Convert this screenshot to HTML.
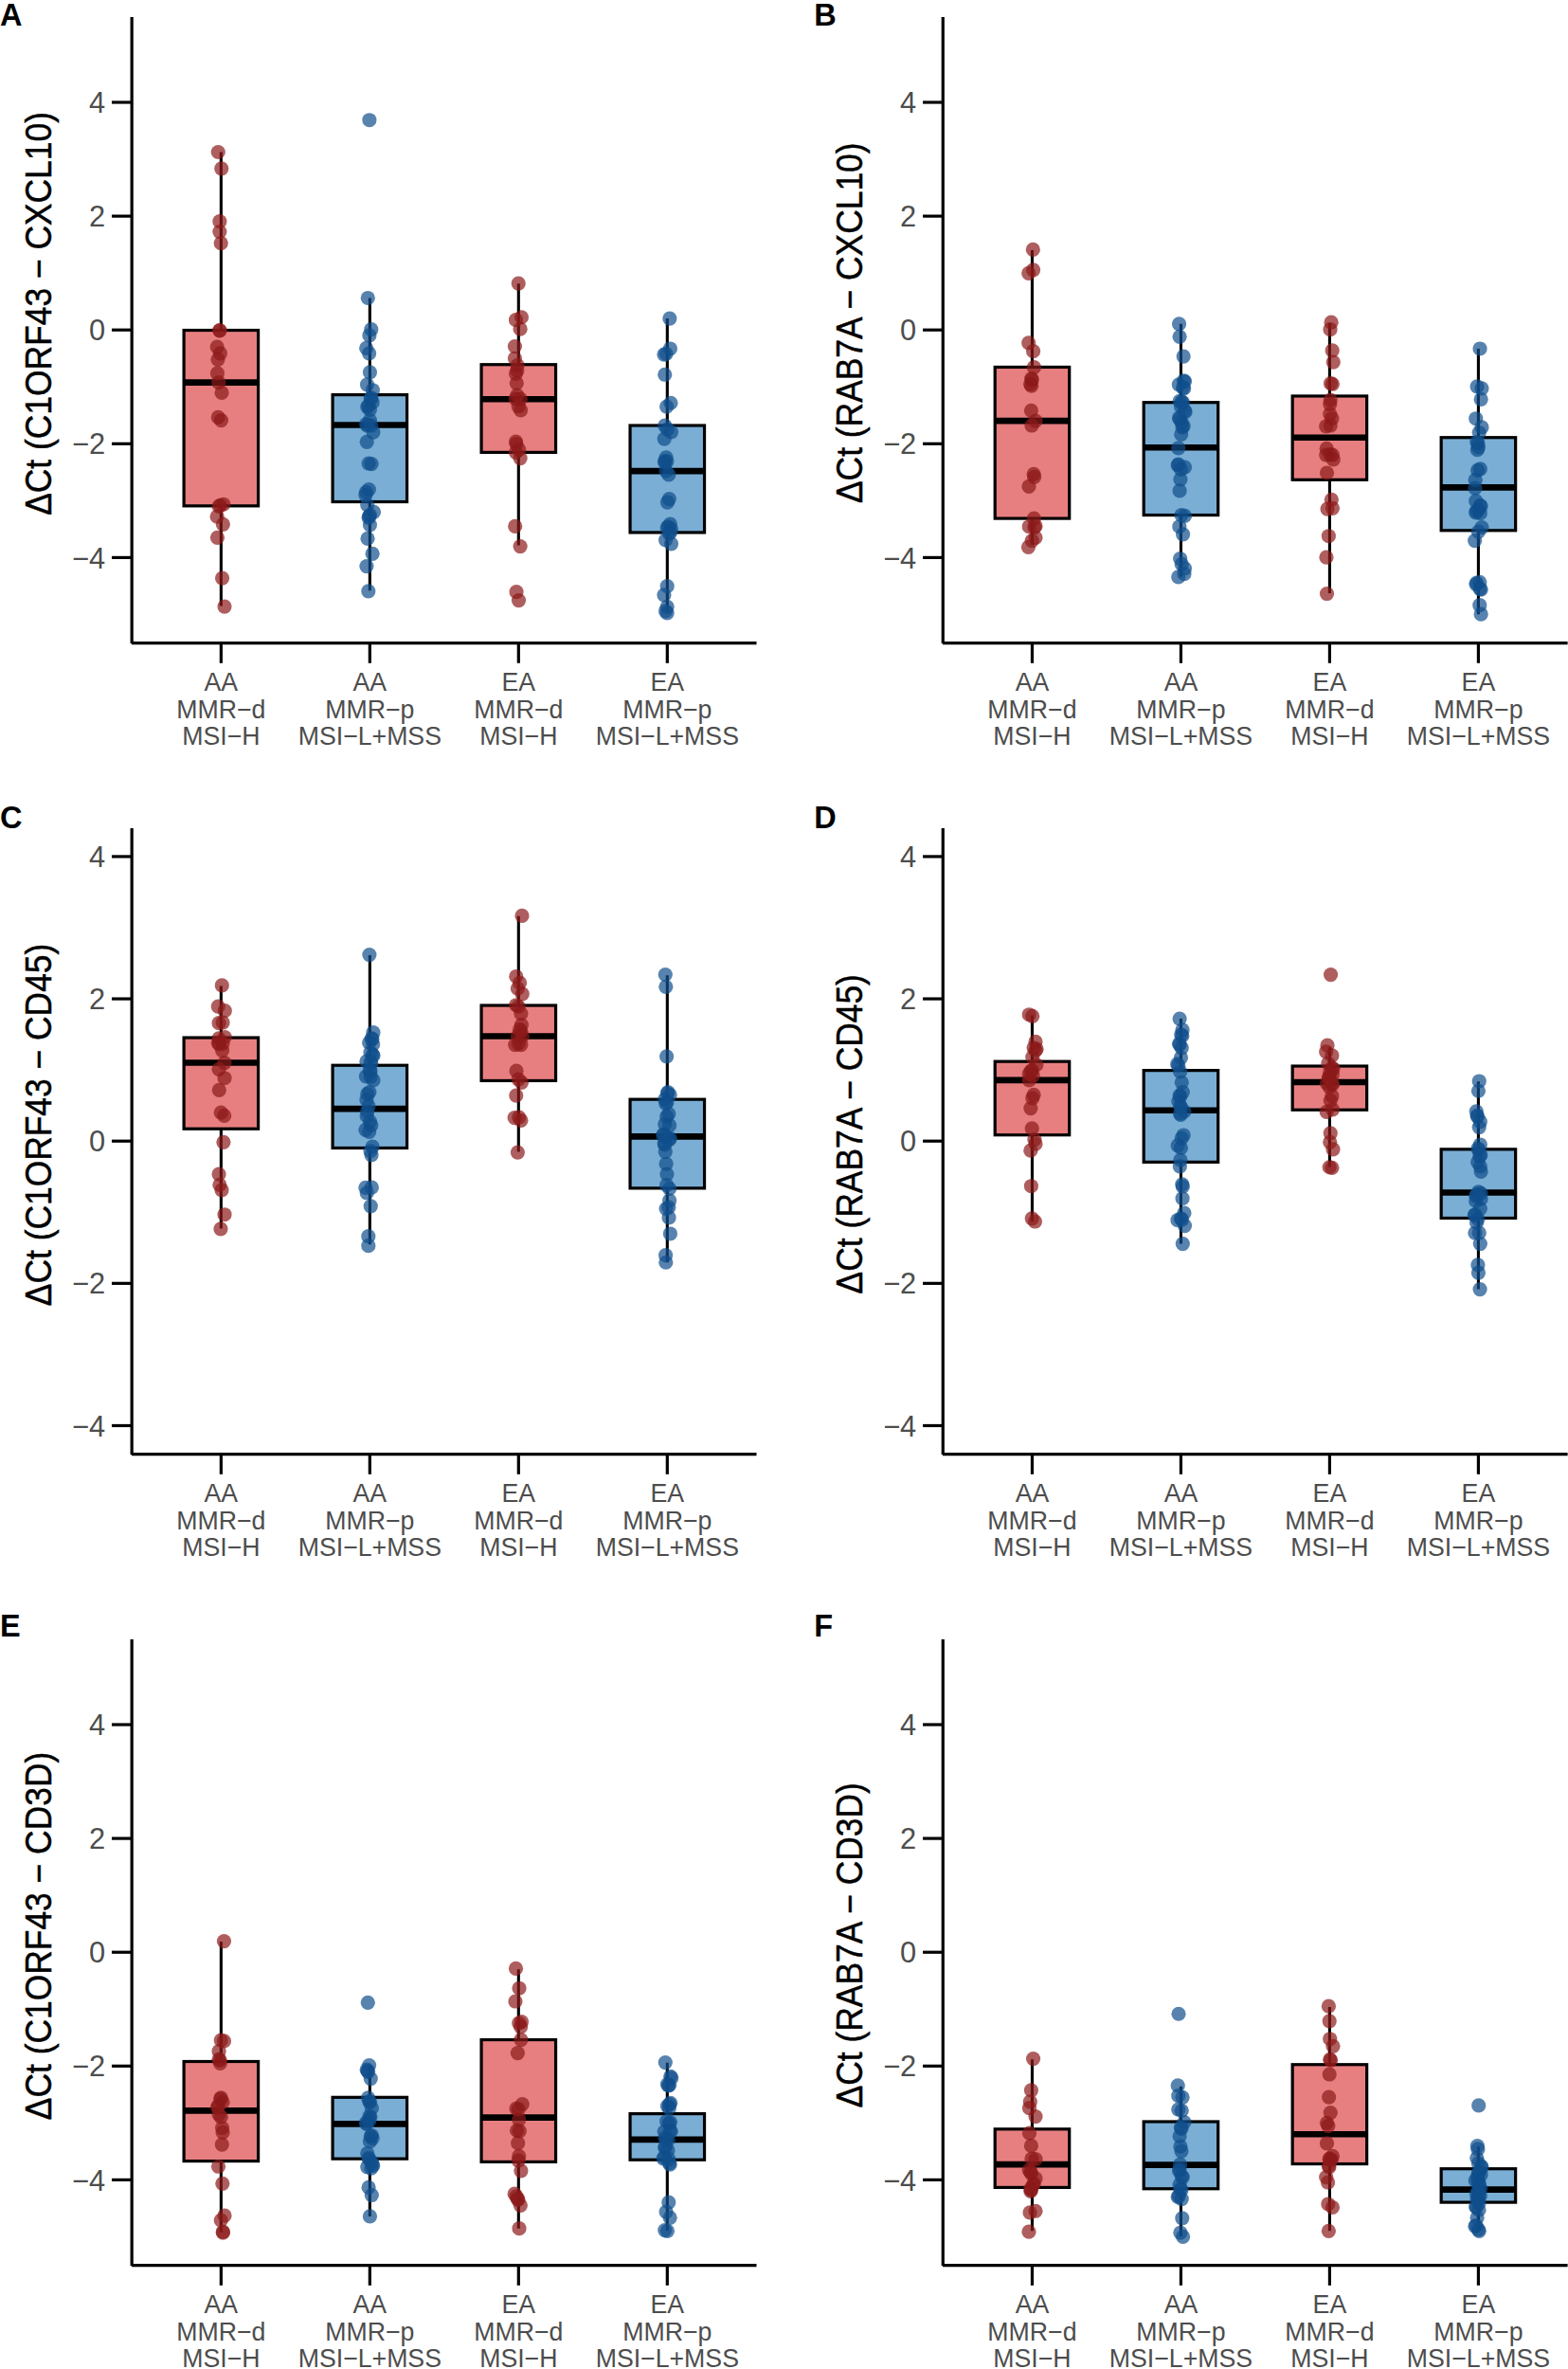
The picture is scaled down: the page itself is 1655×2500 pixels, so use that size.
<!DOCTYPE html>
<html lang="en"><head><meta charset="utf-8"><title>Figure</title>
<style>html,body{margin:0;padding:0;background:#fff}svg{display:block}</style></head>
<body>
<svg width="1655" height="2500" viewBox="0 0 1655 2500" font-family="'Liberation Sans', Arial, Helvetica, sans-serif">
<rect width="1655" height="2500" fill="#fff"/>
<g id="panelA">
<path d="M233.34 160.5V348.53M233.34 533.85V639.49" stroke="#000" stroke-width="3.1" fill="none"/>
<rect x="194.1" y="348.53" width="78.49" height="185.33" fill="#E77F81" stroke="#000" stroke-width="3.2"/>
<path d="M194.1 403.64H272.59" stroke="#000" stroke-width="6.6"/>
<g fill="rgba(139,26,26,0.7)">
<circle cx="230.24" cy="160.5" r="7.6"/>
<circle cx="233.75" cy="177.79" r="7.6"/>
<circle cx="231.86" cy="233.71" r="7.6"/>
<circle cx="231.86" cy="244.52" r="7.6"/>
<circle cx="233.21" cy="256.67" r="7.6"/>
<circle cx="231.86" cy="348.53" r="7.6"/>
<circle cx="231.86" cy="348.8" r="7.6"/>
<circle cx="229.16" cy="366.09" r="7.6"/>
<circle cx="232.4" cy="372.84" r="7.6"/>
<circle cx="229.97" cy="379.32" r="7.6"/>
<circle cx="229.43" cy="393.91" r="7.6"/>
<circle cx="230.78" cy="403.64" r="7.6"/>
<circle cx="234.02" cy="414.44" r="7.6"/>
<circle cx="230.24" cy="440.38" r="7.6"/>
<circle cx="233.48" cy="443.62" r="7.6"/>
<circle cx="232.4" cy="533.31" r="7.6"/>
<circle cx="235.91" cy="532.23" r="7.6"/>
<circle cx="231.05" cy="534.39" r="7.6"/>
<circle cx="229.16" cy="545.2" r="7.6"/>
<circle cx="235.37" cy="553.31" r="7.6"/>
<circle cx="229.43" cy="567.35" r="7.6"/>
<circle cx="234.56" cy="610.04" r="7.6"/>
<circle cx="236.99" cy="640.03" r="7.6"/>
</g>
<path d="M390.33 314.49V416.61M390.33 529.53V623.28" stroke="#000" stroke-width="3.1" fill="none"/>
<rect x="351.08" y="416.61" width="78.49" height="112.93" fill="#7AAED4" stroke="#000" stroke-width="3.2"/>
<path d="M351.08 448.48H429.58" stroke="#000" stroke-width="6.6"/>
<g fill="rgba(16,78,139,0.7)">
<circle cx="389.9" cy="126.73" r="7.6"/>
<circle cx="388.28" cy="314.49" r="7.6"/>
<circle cx="391.79" cy="347.72" r="7.6"/>
<circle cx="389.9" cy="353.93" r="7.6"/>
<circle cx="386.66" cy="367.44" r="7.6"/>
<circle cx="389.63" cy="372.84" r="7.6"/>
<circle cx="390.44" cy="392.83" r="7.6"/>
<circle cx="387.47" cy="405.8" r="7.6"/>
<circle cx="393.41" cy="411.74" r="7.6"/>
<circle cx="391.25" cy="420.66" r="7.6"/>
<circle cx="393.14" cy="424.71" r="7.6"/>
<circle cx="387.74" cy="429.57" r="7.6"/>
<circle cx="390.44" cy="432.28" r="7.6"/>
<circle cx="390.44" cy="443.62" r="7.6"/>
<circle cx="387.74" cy="449.02" r="7.6"/>
<circle cx="391.79" cy="449.02" r="7.6"/>
<circle cx="393.95" cy="456.05" r="7.6"/>
<circle cx="387.2" cy="466.31" r="7.6"/>
<circle cx="389.09" cy="489.01" r="7.6"/>
<circle cx="392.06" cy="489.55" r="7.6"/>
<circle cx="389.36" cy="516.56" r="7.6"/>
<circle cx="386.39" cy="519.27" r="7.6"/>
<circle cx="385.85" cy="522.51" r="7.6"/>
<circle cx="387.74" cy="532.77" r="7.6"/>
<circle cx="394.49" cy="540.34" r="7.6"/>
<circle cx="390.44" cy="543.58" r="7.6"/>
<circle cx="389.09" cy="546.28" r="7.6"/>
<circle cx="390.44" cy="553.85" r="7.6"/>
<circle cx="388.01" cy="568.43" r="7.6"/>
<circle cx="393.14" cy="584.37" r="7.6"/>
<circle cx="386.93" cy="597.61" r="7.6"/>
<circle cx="388.82" cy="623.82" r="7.6"/>
<circle cx="391.79" cy="419.85" r="7.6"/>
<circle cx="388.82" cy="428.22" r="7.6"/>
<circle cx="386.66" cy="447.67" r="7.6"/>
<circle cx="389.63" cy="544.93" r="7.6"/>
</g>
<path d="M547.32 299.36V384.73M547.32 477.39V575.46" stroke="#000" stroke-width="3.1" fill="none"/>
<rect x="508.07" y="384.73" width="78.49" height="92.66" fill="#E77F81" stroke="#000" stroke-width="3.2"/>
<path d="M508.07 421.2H586.57" stroke="#000" stroke-width="6.6"/>
<g fill="rgba(139,26,26,0.7)">
<circle cx="547.21" cy="299.09" r="7.6"/>
<circle cx="550.45" cy="334.75" r="7.6"/>
<circle cx="544.51" cy="337.72" r="7.6"/>
<circle cx="549.1" cy="347.18" r="7.6"/>
<circle cx="543.43" cy="365.55" r="7.6"/>
<circle cx="543.43" cy="378.24" r="7.6"/>
<circle cx="546.13" cy="385.54" r="7.6"/>
<circle cx="545.86" cy="390.94" r="7.6"/>
<circle cx="544.51" cy="394.45" r="7.6"/>
<circle cx="545.32" cy="404.45" r="7.6"/>
<circle cx="545.86" cy="417.15" r="7.6"/>
<circle cx="544.24" cy="420.93" r="7.6"/>
<circle cx="549.37" cy="421.2" r="7.6"/>
<circle cx="547.21" cy="428.76" r="7.6"/>
<circle cx="549.64" cy="432.82" r="7.6"/>
<circle cx="544.51" cy="466.04" r="7.6"/>
<circle cx="545.05" cy="468.48" r="7.6"/>
<circle cx="547.75" cy="474.69" r="7.6"/>
<circle cx="544.51" cy="477.39" r="7.6"/>
<circle cx="549.1" cy="483.6" r="7.6"/>
<circle cx="543.7" cy="555.47" r="7.6"/>
<circle cx="549.1" cy="576.54" r="7.6"/>
<circle cx="545.05" cy="624.63" r="7.6"/>
<circle cx="547.48" cy="633.54" r="7.6"/>
</g>
<path d="M704.31 336.1V449.02M704.31 561.95V646.24" stroke="#000" stroke-width="3.1" fill="none"/>
<rect x="665.06" y="449.02" width="78.49" height="112.93" fill="#7AAED4" stroke="#000" stroke-width="3.2"/>
<path d="M665.06 497.11H743.55" stroke="#000" stroke-width="6.6"/>
<g fill="rgba(16,78,139,0.7)">
<circle cx="706.87" cy="336.1" r="7.6"/>
<circle cx="707.41" cy="367.98" r="7.6"/>
<circle cx="700.93" cy="374.19" r="7.6"/>
<circle cx="703.09" cy="373.38" r="7.6"/>
<circle cx="701.74" cy="395.26" r="7.6"/>
<circle cx="707.95" cy="425.25" r="7.6"/>
<circle cx="703.63" cy="429.03" r="7.6"/>
<circle cx="701.74" cy="449.02" r="7.6"/>
<circle cx="704.44" cy="453.08" r="7.6"/>
<circle cx="708.49" cy="455.78" r="7.6"/>
<circle cx="701.2" cy="463.07" r="7.6"/>
<circle cx="703.09" cy="482.79" r="7.6"/>
<circle cx="703.9" cy="486.85" r="7.6"/>
<circle cx="702.01" cy="488.2" r="7.6"/>
<circle cx="703.09" cy="497.11" r="7.6"/>
<circle cx="705.79" cy="500.89" r="7.6"/>
<circle cx="706.33" cy="526.56" r="7.6"/>
<circle cx="704.44" cy="530.07" r="7.6"/>
<circle cx="707.41" cy="553.04" r="7.6"/>
<circle cx="705.25" cy="555.74" r="7.6"/>
<circle cx="708.49" cy="558.44" r="7.6"/>
<circle cx="706.33" cy="563.03" r="7.6"/>
<circle cx="702.55" cy="569.78" r="7.6"/>
<circle cx="708.49" cy="573.84" r="7.6"/>
<circle cx="704.17" cy="618.68" r="7.6"/>
<circle cx="700.93" cy="627.87" r="7.6"/>
<circle cx="704.17" cy="640.3" r="7.6"/>
<circle cx="702.55" cy="644.89" r="7.6"/>
<circle cx="704.17" cy="646.78" r="7.6"/>
<circle cx="701.47" cy="486.85" r="7.6"/>
<circle cx="704.17" cy="557.09" r="7.6"/>
<circle cx="707.41" cy="561.68" r="7.6"/>
</g>
<path d="M139.15 17.9V678.9M138.85 678.6H798.5" stroke="#000" stroke-width="3.2" fill="none"/>
<path d="M117.95 108H139.15" stroke="#000" stroke-width="3.2"/>
<text x="111.15" y="119.1" font-size="30.8" fill="#4D4D4D" text-anchor="end">4</text>
<path d="M117.95 228.1H139.15" stroke="#000" stroke-width="3.2"/>
<text x="111.15" y="239.2" font-size="30.8" fill="#4D4D4D" text-anchor="end">2</text>
<path d="M117.95 348.2H139.15" stroke="#000" stroke-width="3.2"/>
<text x="111.15" y="359.3" font-size="30.8" fill="#4D4D4D" text-anchor="end">0</text>
<path d="M117.95 468.3H139.15" stroke="#000" stroke-width="3.2"/>
<text x="111.15" y="479.4" font-size="30.8" fill="#4D4D4D" text-anchor="end">−2</text>
<path d="M117.95 588.4H139.15" stroke="#000" stroke-width="3.2"/>
<text x="111.15" y="599.5" font-size="30.8" fill="#4D4D4D" text-anchor="end">−4</text>
<path d="M233.34 678.6V699.8" stroke="#000" stroke-width="3.2"/>
<text transform="translate(233.34 728.7) scale(1 1.05)" font-size="26.7" fill="#4D4D4D" text-anchor="middle">AA</text>
<text transform="translate(233.34 757.5) scale(1 1.05)" font-size="26.7" fill="#4D4D4D" text-anchor="middle">MMR−d</text>
<text transform="translate(233.34 786.3) scale(1 1.05)" font-size="26.7" fill="#4D4D4D" text-anchor="middle">MSI−H</text>
<path d="M390.33 678.6V699.8" stroke="#000" stroke-width="3.2"/>
<text transform="translate(390.33 728.7) scale(1 1.05)" font-size="26.7" fill="#4D4D4D" text-anchor="middle">AA</text>
<text transform="translate(390.33 757.5) scale(1 1.05)" font-size="26.7" fill="#4D4D4D" text-anchor="middle">MMR−p</text>
<text transform="translate(390.33 786.3) scale(1 1.05)" font-size="26.7" fill="#4D4D4D" text-anchor="middle">MSI−L+MSS</text>
<path d="M547.32 678.6V699.8" stroke="#000" stroke-width="3.2"/>
<text transform="translate(547.32 728.7) scale(1 1.05)" font-size="26.7" fill="#4D4D4D" text-anchor="middle">EA</text>
<text transform="translate(547.32 757.5) scale(1 1.05)" font-size="26.7" fill="#4D4D4D" text-anchor="middle">MMR−d</text>
<text transform="translate(547.32 786.3) scale(1 1.05)" font-size="26.7" fill="#4D4D4D" text-anchor="middle">MSI−H</text>
<path d="M704.31 678.6V699.8" stroke="#000" stroke-width="3.2"/>
<text transform="translate(704.31 728.7) scale(1 1.05)" font-size="26.7" fill="#4D4D4D" text-anchor="middle">EA</text>
<text transform="translate(704.31 757.5) scale(1 1.05)" font-size="26.7" fill="#4D4D4D" text-anchor="middle">MMR−p</text>
<text transform="translate(704.31 786.3) scale(1 1.05)" font-size="26.7" fill="#4D4D4D" text-anchor="middle">MSI−L+MSS</text>
<text transform="translate(53.5 330.95)  rotate(-90) scale(1 1.08)" font-size="35.4" fill="#000" stroke="#000" stroke-width="0.45" text-anchor="middle">ΔCt (C1ORF43 − CXCL10)</text>
<text x="0" y="26.8" font-size="32.5" font-weight="bold" fill="#000">A</text>
</g>
<g id="panelB">
<path d="M1089.44 263.97V387.43M1089.44 547.09V574.65" stroke="#000" stroke-width="3.1" fill="none"/>
<rect x="1050.2" y="387.43" width="78.49" height="159.66" fill="#E77F81" stroke="#000" stroke-width="3.2"/>
<path d="M1050.2 444.16H1128.69" stroke="#000" stroke-width="6.6"/>
<g fill="rgba(139,26,26,0.7)">
<circle cx="1090.29" cy="263.43" r="7.6"/>
<circle cx="1090.56" cy="284.77" r="7.6"/>
<circle cx="1085.7" cy="288.28" r="7.6"/>
<circle cx="1085.7" cy="361.76" r="7.6"/>
<circle cx="1090.56" cy="370.68" r="7.6"/>
<circle cx="1091.37" cy="387.7" r="7.6"/>
<circle cx="1089.21" cy="400.94" r="7.6"/>
<circle cx="1087.59" cy="405.26" r="7.6"/>
<circle cx="1088.67" cy="407.15" r="7.6"/>
<circle cx="1088.4" cy="433.36" r="7.6"/>
<circle cx="1092.99" cy="444.16" r="7.6"/>
<circle cx="1088.94" cy="449.02" r="7.6"/>
<circle cx="1091.1" cy="500.35" r="7.6"/>
<circle cx="1091.64" cy="503.33" r="7.6"/>
<circle cx="1085.97" cy="513.32" r="7.6"/>
<circle cx="1091.37" cy="547.09" r="7.6"/>
<circle cx="1086.24" cy="555.74" r="7.6"/>
<circle cx="1091.91" cy="556.55" r="7.6"/>
<circle cx="1092.99" cy="567.35" r="7.6"/>
<circle cx="1089.21" cy="570.6" r="7.6"/>
<circle cx="1085.43" cy="577.35" r="7.6"/>
<circle cx="1088.67" cy="399.59" r="7.6"/>
<circle cx="1092.99" cy="555.2" r="7.6"/>
</g>
<path d="M1246.43 341.77V424.71M1246.43 543.58V608.42" stroke="#000" stroke-width="3.1" fill="none"/>
<rect x="1207.18" y="424.71" width="78.49" height="118.87" fill="#7AAED4" stroke="#000" stroke-width="3.2"/>
<path d="M1207.18 472.26H1285.68" stroke="#000" stroke-width="6.6"/>
<g fill="rgba(16,78,139,0.7)">
<circle cx="1244.55" cy="341.77" r="7.6"/>
<circle cx="1245.09" cy="355.28" r="7.6"/>
<circle cx="1249.14" cy="376.08" r="7.6"/>
<circle cx="1250.49" cy="402.56" r="7.6"/>
<circle cx="1244.28" cy="405.8" r="7.6"/>
<circle cx="1249.68" cy="409.85" r="7.6"/>
<circle cx="1245.09" cy="423.36" r="7.6"/>
<circle cx="1248.33" cy="424.71" r="7.6"/>
<circle cx="1246.44" cy="428.76" r="7.6"/>
<circle cx="1250.49" cy="433.36" r="7.6"/>
<circle cx="1245.09" cy="442.27" r="7.6"/>
<circle cx="1247.25" cy="445.78" r="7.6"/>
<circle cx="1249.14" cy="449.57" r="7.6"/>
<circle cx="1246.71" cy="458.48" r="7.6"/>
<circle cx="1243.74" cy="472.8" r="7.6"/>
<circle cx="1243.2" cy="490.9" r="7.6"/>
<circle cx="1250.49" cy="493.06" r="7.6"/>
<circle cx="1246.44" cy="495.49" r="7.6"/>
<circle cx="1245.9" cy="505.76" r="7.6"/>
<circle cx="1245.09" cy="517.91" r="7.6"/>
<circle cx="1246.98" cy="543.58" r="7.6"/>
<circle cx="1250.49" cy="544.39" r="7.6"/>
<circle cx="1244.82" cy="555.74" r="7.6"/>
<circle cx="1248.6" cy="563.84" r="7.6"/>
<circle cx="1245.63" cy="589.51" r="7.6"/>
<circle cx="1247.25" cy="595.45" r="7.6"/>
<circle cx="1250.49" cy="599.77" r="7.6"/>
<circle cx="1249.95" cy="605.72" r="7.6"/>
<circle cx="1243.74" cy="608.96" r="7.6"/>
<circle cx="1247.25" cy="423.9" r="7.6"/>
<circle cx="1248.06" cy="450.92" r="7.6"/>
<circle cx="1249.41" cy="401.75" r="7.6"/>
<circle cx="1248.6" cy="409.04" r="7.6"/>
<circle cx="1251.03" cy="434.71" r="7.6"/>
<circle cx="1244.55" cy="440.92" r="7.6"/>
<circle cx="1243.74" cy="490.09" r="7.6"/>
</g>
<path d="M1403.42 340.96V417.96M1403.42 506.3V625.98" stroke="#000" stroke-width="3.1" fill="none"/>
<rect x="1364.17" y="417.96" width="78.49" height="88.34" fill="#E77F81" stroke="#000" stroke-width="3.2"/>
<path d="M1364.17 461.72H1442.67" stroke="#000" stroke-width="6.6"/>
<g fill="rgba(139,26,26,0.7)">
<circle cx="1405.1" cy="340.15" r="7.6"/>
<circle cx="1404.02" cy="347.72" r="7.6"/>
<circle cx="1406.18" cy="369.87" r="7.6"/>
<circle cx="1407.26" cy="382.03" r="7.6"/>
<circle cx="1404.56" cy="404.72" r="7.6"/>
<circle cx="1406.45" cy="405.26" r="7.6"/>
<circle cx="1404.29" cy="422.01" r="7.6"/>
<circle cx="1403.75" cy="426.6" r="7.6"/>
<circle cx="1403.75" cy="436.87" r="7.6"/>
<circle cx="1405.91" cy="441.73" r="7.6"/>
<circle cx="1399.7" cy="449.84" r="7.6"/>
<circle cx="1404.29" cy="449.02" r="7.6"/>
<circle cx="1400.24" cy="473.34" r="7.6"/>
<circle cx="1399.7" cy="480.09" r="7.6"/>
<circle cx="1403.75" cy="479.55" r="7.6"/>
<circle cx="1406.45" cy="480.09" r="7.6"/>
<circle cx="1407.26" cy="484.96" r="7.6"/>
<circle cx="1400.51" cy="499" r="7.6"/>
<circle cx="1405.37" cy="527.37" r="7.6"/>
<circle cx="1401.05" cy="537.1" r="7.6"/>
<circle cx="1406.45" cy="536.29" r="7.6"/>
<circle cx="1402.4" cy="565.73" r="7.6"/>
<circle cx="1399.97" cy="588.16" r="7.6"/>
<circle cx="1400.51" cy="626.52" r="7.6"/>
</g>
<path d="M1560.41 367.98V461.72M1560.41 559.79V648.13" stroke="#000" stroke-width="3.1" fill="none"/>
<rect x="1521.16" y="461.72" width="78.49" height="98.07" fill="#7AAED4" stroke="#000" stroke-width="3.2"/>
<path d="M1521.16 514.4H1599.65" stroke="#000" stroke-width="6.6"/>
<g fill="rgba(16,78,139,0.7)">
<circle cx="1562.06" cy="367.98" r="7.6"/>
<circle cx="1559.09" cy="407.96" r="7.6"/>
<circle cx="1563.95" cy="409.85" r="7.6"/>
<circle cx="1563.14" cy="421.47" r="7.6"/>
<circle cx="1557.74" cy="441.73" r="7.6"/>
<circle cx="1563.95" cy="450.92" r="7.6"/>
<circle cx="1561.25" cy="456.59" r="7.6"/>
<circle cx="1559.9" cy="467.94" r="7.6"/>
<circle cx="1560.44" cy="471.99" r="7.6"/>
<circle cx="1559.36" cy="474.69" r="7.6"/>
<circle cx="1562.33" cy="494.95" r="7.6"/>
<circle cx="1559.63" cy="496.3" r="7.6"/>
<circle cx="1557.2" cy="506.3" r="7.6"/>
<circle cx="1556.93" cy="515.21" r="7.6"/>
<circle cx="1557.74" cy="528.72" r="7.6"/>
<circle cx="1563.14" cy="534.12" r="7.6"/>
<circle cx="1560.44" cy="538.18" r="7.6"/>
<circle cx="1557.74" cy="540.88" r="7.6"/>
<circle cx="1562.33" cy="541.69" r="7.6"/>
<circle cx="1563.95" cy="556.55" r="7.6"/>
<circle cx="1560.44" cy="561.14" r="7.6"/>
<circle cx="1556.66" cy="570.6" r="7.6"/>
<circle cx="1558.55" cy="615.17" r="7.6"/>
<circle cx="1561.79" cy="614.36" r="7.6"/>
<circle cx="1562.06" cy="621.38" r="7.6"/>
<circle cx="1561.79" cy="638.67" r="7.6"/>
<circle cx="1563.14" cy="648.13" r="7.6"/>
<circle cx="1562.06" cy="533.31" r="7.6"/>
<circle cx="1558.28" cy="539.53" r="7.6"/>
<circle cx="1558.82" cy="466.59" r="7.6"/>
<circle cx="1558.01" cy="616.52" r="7.6"/>
<circle cx="1563.14" cy="622.2" r="7.6"/>
</g>
<path d="M995.25 17.9V678.9M994.95 678.6H1654.6" stroke="#000" stroke-width="3.2" fill="none"/>
<path d="M974.05 108H995.25" stroke="#000" stroke-width="3.2"/>
<text x="967.25" y="119.1" font-size="30.8" fill="#4D4D4D" text-anchor="end">4</text>
<path d="M974.05 228.1H995.25" stroke="#000" stroke-width="3.2"/>
<text x="967.25" y="239.2" font-size="30.8" fill="#4D4D4D" text-anchor="end">2</text>
<path d="M974.05 348.2H995.25" stroke="#000" stroke-width="3.2"/>
<text x="967.25" y="359.3" font-size="30.8" fill="#4D4D4D" text-anchor="end">0</text>
<path d="M974.05 468.3H995.25" stroke="#000" stroke-width="3.2"/>
<text x="967.25" y="479.4" font-size="30.8" fill="#4D4D4D" text-anchor="end">−2</text>
<path d="M974.05 588.4H995.25" stroke="#000" stroke-width="3.2"/>
<text x="967.25" y="599.5" font-size="30.8" fill="#4D4D4D" text-anchor="end">−4</text>
<path d="M1089.44 678.6V699.8" stroke="#000" stroke-width="3.2"/>
<text transform="translate(1089.44 728.7) scale(1 1.05)" font-size="26.7" fill="#4D4D4D" text-anchor="middle">AA</text>
<text transform="translate(1089.44 757.5) scale(1 1.05)" font-size="26.7" fill="#4D4D4D" text-anchor="middle">MMR−d</text>
<text transform="translate(1089.44 786.3) scale(1 1.05)" font-size="26.7" fill="#4D4D4D" text-anchor="middle">MSI−H</text>
<path d="M1246.43 678.6V699.8" stroke="#000" stroke-width="3.2"/>
<text transform="translate(1246.43 728.7) scale(1 1.05)" font-size="26.7" fill="#4D4D4D" text-anchor="middle">AA</text>
<text transform="translate(1246.43 757.5) scale(1 1.05)" font-size="26.7" fill="#4D4D4D" text-anchor="middle">MMR−p</text>
<text transform="translate(1246.43 786.3) scale(1 1.05)" font-size="26.7" fill="#4D4D4D" text-anchor="middle">MSI−L+MSS</text>
<path d="M1403.42 678.6V699.8" stroke="#000" stroke-width="3.2"/>
<text transform="translate(1403.42 728.7) scale(1 1.05)" font-size="26.7" fill="#4D4D4D" text-anchor="middle">EA</text>
<text transform="translate(1403.42 757.5) scale(1 1.05)" font-size="26.7" fill="#4D4D4D" text-anchor="middle">MMR−d</text>
<text transform="translate(1403.42 786.3) scale(1 1.05)" font-size="26.7" fill="#4D4D4D" text-anchor="middle">MSI−H</text>
<path d="M1560.41 678.6V699.8" stroke="#000" stroke-width="3.2"/>
<text transform="translate(1560.41 728.7) scale(1 1.05)" font-size="26.7" fill="#4D4D4D" text-anchor="middle">EA</text>
<text transform="translate(1560.41 757.5) scale(1 1.05)" font-size="26.7" fill="#4D4D4D" text-anchor="middle">MMR−p</text>
<text transform="translate(1560.41 786.3) scale(1 1.05)" font-size="26.7" fill="#4D4D4D" text-anchor="middle">MSI−L+MSS</text>
<text transform="translate(909.6 340.75)  rotate(-90) scale(1 1.08)" font-size="35.4" fill="#000" stroke="#000" stroke-width="0.45" text-anchor="middle">ΔCt (RAB7A − CXCL10)</text>
<text x="859.2" y="26.8" font-size="32.5" font-weight="bold" fill="#000">B</text>
</g>
<g id="panelC">
<path d="M233.34 1040.48V1095.05M233.34 1191.23V1296.59" stroke="#000" stroke-width="3.1" fill="none"/>
<rect x="194.1" y="1095.05" width="78.49" height="96.18" fill="#E77F81" stroke="#000" stroke-width="3.2"/>
<path d="M194.1 1121.53H272.59" stroke="#000" stroke-width="6.6"/>
<g fill="rgba(139,26,26,0.7)">
<circle cx="234.29" cy="1039.94" r="7.6"/>
<circle cx="230.24" cy="1062.09" r="7.6"/>
<circle cx="237.26" cy="1066.69" r="7.6"/>
<circle cx="231.05" cy="1079.65" r="7.6"/>
<circle cx="235.1" cy="1079.11" r="7.6"/>
<circle cx="237.26" cy="1094.51" r="7.6"/>
<circle cx="231.05" cy="1095.86" r="7.6"/>
<circle cx="230.24" cy="1100.46" r="7.6"/>
<circle cx="235.1" cy="1101.27" r="7.6"/>
<circle cx="234.56" cy="1108.56" r="7.6"/>
<circle cx="236.99" cy="1121.53" r="7.6"/>
<circle cx="231.05" cy="1128.28" r="7.6"/>
<circle cx="236.99" cy="1137.74" r="7.6"/>
<circle cx="231.32" cy="1150.43" r="7.6"/>
<circle cx="233.21" cy="1174.21" r="7.6"/>
<circle cx="236.72" cy="1177.45" r="7.6"/>
<circle cx="235.91" cy="1205.28" r="7.6"/>
<circle cx="231.05" cy="1239.05" r="7.6"/>
<circle cx="231.86" cy="1250.39" r="7.6"/>
<circle cx="234.02" cy="1255.8" r="7.6"/>
<circle cx="236.99" cy="1281.73" r="7.6"/>
<circle cx="232.94" cy="1296.86" r="7.6"/>
<circle cx="231.32" cy="1101.81" r="7.6"/>
</g>
<path d="M390.33 1008.06V1124.23M390.33 1211.49V1313.34" stroke="#000" stroke-width="3.1" fill="none"/>
<rect x="351.08" y="1124.23" width="78.49" height="87.26" fill="#7AAED4" stroke="#000" stroke-width="3.2"/>
<path d="M351.08 1170.16H429.58" stroke="#000" stroke-width="6.6"/>
<g fill="rgba(16,78,139,0.7)">
<circle cx="389.9" cy="1007.52" r="7.6"/>
<circle cx="393.95" cy="1089.65" r="7.6"/>
<circle cx="392.33" cy="1095.86" r="7.6"/>
<circle cx="389.63" cy="1100.46" r="7.6"/>
<circle cx="393.68" cy="1102.08" r="7.6"/>
<circle cx="390.98" cy="1110.72" r="7.6"/>
<circle cx="393.95" cy="1113.96" r="7.6"/>
<circle cx="386.93" cy="1120.18" r="7.6"/>
<circle cx="391.79" cy="1122.07" r="7.6"/>
<circle cx="390.44" cy="1129.63" r="7.6"/>
<circle cx="386.39" cy="1135.85" r="7.6"/>
<circle cx="391.25" cy="1136.39" r="7.6"/>
<circle cx="393.95" cy="1139.9" r="7.6"/>
<circle cx="389.9" cy="1152.6" r="7.6"/>
<circle cx="387.74" cy="1154.49" r="7.6"/>
<circle cx="386.93" cy="1160.7" r="7.6"/>
<circle cx="389.09" cy="1167.45" r="7.6"/>
<circle cx="387.74" cy="1172.86" r="7.6"/>
<circle cx="387.2" cy="1177.72" r="7.6"/>
<circle cx="390.44" cy="1183.66" r="7.6"/>
<circle cx="391.79" cy="1187.72" r="7.6"/>
<circle cx="385.85" cy="1192.31" r="7.6"/>
<circle cx="389.63" cy="1194.47" r="7.6"/>
<circle cx="393.14" cy="1210.14" r="7.6"/>
<circle cx="390.98" cy="1214.73" r="7.6"/>
<circle cx="392.06" cy="1218.78" r="7.6"/>
<circle cx="392.33" cy="1253.09" r="7.6"/>
<circle cx="385.85" cy="1253.36" r="7.6"/>
<circle cx="387.2" cy="1258.77" r="7.6"/>
<circle cx="391.25" cy="1272.82" r="7.6"/>
<circle cx="388.82" cy="1304.69" r="7.6"/>
<circle cx="388.82" cy="1314.69" r="7.6"/>
<circle cx="392.87" cy="1096.67" r="7.6"/>
<circle cx="393.41" cy="1113.15" r="7.6"/>
<circle cx="391.25" cy="1120.72" r="7.6"/>
<circle cx="390.98" cy="1130.98" r="7.6"/>
</g>
<path d="M547.32 966.73V1061.01M547.32 1140.44V1215.54" stroke="#000" stroke-width="3.1" fill="none"/>
<rect x="508.07" y="1061.01" width="78.49" height="79.43" fill="#E77F81" stroke="#000" stroke-width="3.2"/>
<path d="M508.07 1093.43H586.57" stroke="#000" stroke-width="6.6"/>
<g fill="rgba(139,26,26,0.7)">
<circle cx="550.99" cy="966.46" r="7.6"/>
<circle cx="544.78" cy="1030.49" r="7.6"/>
<circle cx="548.56" cy="1037.24" r="7.6"/>
<circle cx="546.4" cy="1043.18" r="7.6"/>
<circle cx="551.26" cy="1048.86" r="7.6"/>
<circle cx="544.78" cy="1060.74" r="7.6"/>
<circle cx="547.21" cy="1062.09" r="7.6"/>
<circle cx="549.91" cy="1069.66" r="7.6"/>
<circle cx="550.45" cy="1081.54" r="7.6"/>
<circle cx="548.56" cy="1086.41" r="7.6"/>
<circle cx="549.91" cy="1088.3" r="7.6"/>
<circle cx="546.4" cy="1093.43" r="7.6"/>
<circle cx="551.26" cy="1093.43" r="7.6"/>
<circle cx="543.7" cy="1102.62" r="7.6"/>
<circle cx="549.91" cy="1102.62" r="7.6"/>
<circle cx="547.21" cy="1101.27" r="7.6"/>
<circle cx="545.05" cy="1130.17" r="7.6"/>
<circle cx="547.21" cy="1139.09" r="7.6"/>
<circle cx="550.45" cy="1142.33" r="7.6"/>
<circle cx="544.78" cy="1156.11" r="7.6"/>
<circle cx="543.16" cy="1179.61" r="7.6"/>
<circle cx="547.75" cy="1179.07" r="7.6"/>
<circle cx="549.91" cy="1182.31" r="7.6"/>
<circle cx="546.4" cy="1216.08" r="7.6"/>
</g>
<path d="M704.31 1029.13V1160.16M704.31 1253.9V1332.25" stroke="#000" stroke-width="3.1" fill="none"/>
<rect x="665.06" y="1160.16" width="78.49" height="93.74" fill="#7AAED4" stroke="#000" stroke-width="3.2"/>
<path d="M665.06 1199.33H743.55" stroke="#000" stroke-width="6.6"/>
<g fill="rgba(16,78,139,0.7)">
<circle cx="702.28" cy="1028.59" r="7.6"/>
<circle cx="702.82" cy="1041.29" r="7.6"/>
<circle cx="703.63" cy="1114.77" r="7.6"/>
<circle cx="704.44" cy="1153.95" r="7.6"/>
<circle cx="707.14" cy="1155.3" r="7.6"/>
<circle cx="701.74" cy="1160.16" r="7.6"/>
<circle cx="703.9" cy="1163.4" r="7.6"/>
<circle cx="705.79" cy="1175.56" r="7.6"/>
<circle cx="703.63" cy="1178.26" r="7.6"/>
<circle cx="701.74" cy="1186.37" r="7.6"/>
<circle cx="706.6" cy="1187.72" r="7.6"/>
<circle cx="700.39" cy="1197.17" r="7.6"/>
<circle cx="703.09" cy="1199.87" r="7.6"/>
<circle cx="707.14" cy="1201.22" r="7.6"/>
<circle cx="701.2" cy="1206.63" r="7.6"/>
<circle cx="702.28" cy="1215.54" r="7.6"/>
<circle cx="703.09" cy="1228.24" r="7.6"/>
<circle cx="703.9" cy="1239.05" r="7.6"/>
<circle cx="703.63" cy="1250.66" r="7.6"/>
<circle cx="706.6" cy="1254.44" r="7.6"/>
<circle cx="706.6" cy="1266.87" r="7.6"/>
<circle cx="703.09" cy="1275.52" r="7.6"/>
<circle cx="705.79" cy="1274.17" r="7.6"/>
<circle cx="706.06" cy="1284.97" r="7.6"/>
<circle cx="707.41" cy="1301.99" r="7.6"/>
<circle cx="702.55" cy="1324.69" r="7.6"/>
<circle cx="702.82" cy="1332.25" r="7.6"/>
<circle cx="701.74" cy="1207.98" r="7.6"/>
<circle cx="704.98" cy="1152.6" r="7.6"/>
<circle cx="702.82" cy="1164.75" r="7.6"/>
<circle cx="699.85" cy="1197.98" r="7.6"/>
<circle cx="706.6" cy="1202.57" r="7.6"/>
</g>
<path d="M139.15 873.9V1534.9M138.85 1534.6H798.5" stroke="#000" stroke-width="3.2" fill="none"/>
<path d="M117.95 903.92H139.15" stroke="#000" stroke-width="3.2"/>
<text x="111.15" y="915.02" font-size="30.8" fill="#4D4D4D" text-anchor="end">4</text>
<path d="M117.95 1054.06H139.15" stroke="#000" stroke-width="3.2"/>
<text x="111.15" y="1065.16" font-size="30.8" fill="#4D4D4D" text-anchor="end">2</text>
<path d="M117.95 1204.2H139.15" stroke="#000" stroke-width="3.2"/>
<text x="111.15" y="1215.3" font-size="30.8" fill="#4D4D4D" text-anchor="end">0</text>
<path d="M117.95 1354.34H139.15" stroke="#000" stroke-width="3.2"/>
<text x="111.15" y="1365.44" font-size="30.8" fill="#4D4D4D" text-anchor="end">−2</text>
<path d="M117.95 1504.48H139.15" stroke="#000" stroke-width="3.2"/>
<text x="111.15" y="1515.58" font-size="30.8" fill="#4D4D4D" text-anchor="end">−4</text>
<path d="M233.34 1534.6V1555.8" stroke="#000" stroke-width="3.2"/>
<text transform="translate(233.34 1584.7) scale(1 1.05)" font-size="26.7" fill="#4D4D4D" text-anchor="middle">AA</text>
<text transform="translate(233.34 1613.5) scale(1 1.05)" font-size="26.7" fill="#4D4D4D" text-anchor="middle">MMR−d</text>
<text transform="translate(233.34 1642.3) scale(1 1.05)" font-size="26.7" fill="#4D4D4D" text-anchor="middle">MSI−H</text>
<path d="M390.33 1534.6V1555.8" stroke="#000" stroke-width="3.2"/>
<text transform="translate(390.33 1584.7) scale(1 1.05)" font-size="26.7" fill="#4D4D4D" text-anchor="middle">AA</text>
<text transform="translate(390.33 1613.5) scale(1 1.05)" font-size="26.7" fill="#4D4D4D" text-anchor="middle">MMR−p</text>
<text transform="translate(390.33 1642.3) scale(1 1.05)" font-size="26.7" fill="#4D4D4D" text-anchor="middle">MSI−L+MSS</text>
<path d="M547.32 1534.6V1555.8" stroke="#000" stroke-width="3.2"/>
<text transform="translate(547.32 1584.7) scale(1 1.05)" font-size="26.7" fill="#4D4D4D" text-anchor="middle">EA</text>
<text transform="translate(547.32 1613.5) scale(1 1.05)" font-size="26.7" fill="#4D4D4D" text-anchor="middle">MMR−d</text>
<text transform="translate(547.32 1642.3) scale(1 1.05)" font-size="26.7" fill="#4D4D4D" text-anchor="middle">MSI−H</text>
<path d="M704.31 1534.6V1555.8" stroke="#000" stroke-width="3.2"/>
<text transform="translate(704.31 1584.7) scale(1 1.05)" font-size="26.7" fill="#4D4D4D" text-anchor="middle">EA</text>
<text transform="translate(704.31 1613.5) scale(1 1.05)" font-size="26.7" fill="#4D4D4D" text-anchor="middle">MMR−p</text>
<text transform="translate(704.31 1642.3) scale(1 1.05)" font-size="26.7" fill="#4D4D4D" text-anchor="middle">MSI−L+MSS</text>
<text transform="translate(53.5 1186.95)  rotate(-90) scale(1 1.08)" font-size="35.4" fill="#000" stroke="#000" stroke-width="0.45" text-anchor="middle">ΔCt (C1ORF43 − CD45)</text>
<text x="0" y="873.6" font-size="32.5" font-weight="bold" fill="#000">C</text>
</g>
<g id="panelD">
<path d="M1089.44 1071.55V1120.18M1089.44 1197.71V1289.02" stroke="#000" stroke-width="3.1" fill="none"/>
<rect x="1050.2" y="1120.18" width="78.49" height="77.53" fill="#E77F81" stroke="#000" stroke-width="3.2"/>
<path d="M1050.2 1139.9H1128.69" stroke="#000" stroke-width="6.6"/>
<g fill="rgba(139,26,26,0.7)">
<circle cx="1086.24" cy="1070.74" r="7.6"/>
<circle cx="1089.75" cy="1072.36" r="7.6"/>
<circle cx="1092.99" cy="1099.38" r="7.6"/>
<circle cx="1091.1" cy="1105.86" r="7.6"/>
<circle cx="1092.99" cy="1108.56" r="7.6"/>
<circle cx="1089.75" cy="1115.58" r="7.6"/>
<circle cx="1093.8" cy="1123.69" r="7.6"/>
<circle cx="1089.21" cy="1129.63" r="7.6"/>
<circle cx="1086.24" cy="1133.14" r="7.6"/>
<circle cx="1090.29" cy="1135.04" r="7.6"/>
<circle cx="1086.24" cy="1139.9" r="7.6"/>
<circle cx="1091.1" cy="1155.3" r="7.6"/>
<circle cx="1089.75" cy="1158.81" r="7.6"/>
<circle cx="1087.86" cy="1169.62" r="7.6"/>
<circle cx="1089.21" cy="1190.96" r="7.6"/>
<circle cx="1091.91" cy="1202.57" r="7.6"/>
<circle cx="1092.99" cy="1207.17" r="7.6"/>
<circle cx="1087.86" cy="1214.19" r="7.6"/>
<circle cx="1088.4" cy="1251.74" r="7.6"/>
<circle cx="1089.21" cy="1285.78" r="7.6"/>
<circle cx="1092.45" cy="1289.02" r="7.6"/>
<circle cx="1094.07" cy="1107.21" r="7.6"/>
<circle cx="1088.13" cy="1130.44" r="7.6"/>
</g>
<path d="M1246.43 1075.06V1129.63M1246.43 1226.35V1312.53" stroke="#000" stroke-width="3.1" fill="none"/>
<rect x="1207.18" y="1129.63" width="78.49" height="96.72" fill="#7AAED4" stroke="#000" stroke-width="3.2"/>
<path d="M1207.18 1171.78H1285.68" stroke="#000" stroke-width="6.6"/>
<g fill="rgba(16,78,139,0.7)">
<circle cx="1245.09" cy="1075.06" r="7.6"/>
<circle cx="1248.06" cy="1086.95" r="7.6"/>
<circle cx="1247.79" cy="1093.16" r="7.6"/>
<circle cx="1244.55" cy="1101.27" r="7.6"/>
<circle cx="1247.25" cy="1105.86" r="7.6"/>
<circle cx="1246.44" cy="1116.12" r="7.6"/>
<circle cx="1243.74" cy="1124.23" r="7.6"/>
<circle cx="1245.63" cy="1130.98" r="7.6"/>
<circle cx="1247.25" cy="1142.33" r="7.6"/>
<circle cx="1248.33" cy="1152.6" r="7.6"/>
<circle cx="1245.09" cy="1156.11" r="7.6"/>
<circle cx="1243.74" cy="1162.05" r="7.6"/>
<circle cx="1245.9" cy="1167.45" r="7.6"/>
<circle cx="1249.95" cy="1172.86" r="7.6"/>
<circle cx="1245.63" cy="1175.02" r="7.6"/>
<circle cx="1249.14" cy="1197.98" r="7.6"/>
<circle cx="1247.25" cy="1201.22" r="7.6"/>
<circle cx="1243.2" cy="1208.79" r="7.6"/>
<circle cx="1246.44" cy="1211.49" r="7.6"/>
<circle cx="1245.9" cy="1224.19" r="7.6"/>
<circle cx="1245.36" cy="1230.94" r="7.6"/>
<circle cx="1247.79" cy="1249.85" r="7.6"/>
<circle cx="1248.33" cy="1252.01" r="7.6"/>
<circle cx="1248.06" cy="1264.71" r="7.6"/>
<circle cx="1249.95" cy="1280.11" r="7.6"/>
<circle cx="1242.93" cy="1287.67" r="7.6"/>
<circle cx="1246.44" cy="1285.78" r="7.6"/>
<circle cx="1250.49" cy="1293.62" r="7.6"/>
<circle cx="1248.33" cy="1312.53" r="7.6"/>
<circle cx="1246.44" cy="1168.27" r="7.6"/>
<circle cx="1247.52" cy="1287.13" r="7.6"/>
<circle cx="1246.71" cy="1091.81" r="7.6"/>
<circle cx="1245.09" cy="1102.62" r="7.6"/>
<circle cx="1242.66" cy="1122.88" r="7.6"/>
<circle cx="1245.63" cy="1157.46" r="7.6"/>
<circle cx="1246.17" cy="1176.37" r="7.6"/>
</g>
<path d="M1403.42 1105.32V1125.04M1403.42 1171.24V1231.75" stroke="#000" stroke-width="3.1" fill="none"/>
<rect x="1364.17" y="1125.04" width="78.49" height="46.2" fill="#E77F81" stroke="#000" stroke-width="3.2"/>
<path d="M1364.17 1142.06H1442.67" stroke="#000" stroke-width="6.6"/>
<g fill="rgba(139,26,26,0.7)">
<circle cx="1404.56" cy="1028.59" r="7.6"/>
<circle cx="1401.05" cy="1103.16" r="7.6"/>
<circle cx="1399.7" cy="1109.91" r="7.6"/>
<circle cx="1405.91" cy="1113.96" r="7.6"/>
<circle cx="1401.86" cy="1122.07" r="7.6"/>
<circle cx="1405.91" cy="1126.93" r="7.6"/>
<circle cx="1403.75" cy="1131.79" r="7.6"/>
<circle cx="1406.45" cy="1133.69" r="7.6"/>
<circle cx="1402.4" cy="1137.74" r="7.6"/>
<circle cx="1400.51" cy="1143.14" r="7.6"/>
<circle cx="1406.45" cy="1144.49" r="7.6"/>
<circle cx="1403.21" cy="1147.19" r="7.6"/>
<circle cx="1405.91" cy="1156.65" r="7.6"/>
<circle cx="1404.29" cy="1161.51" r="7.6"/>
<circle cx="1406.45" cy="1170.97" r="7.6"/>
<circle cx="1400.24" cy="1173.4" r="7.6"/>
<circle cx="1404.29" cy="1195.82" r="7.6"/>
<circle cx="1403.75" cy="1205.28" r="7.6"/>
<circle cx="1406.99" cy="1212.84" r="7.6"/>
<circle cx="1403.21" cy="1231.75" r="7.6"/>
<circle cx="1405.91" cy="1232.29" r="7.6"/>
<circle cx="1402.94" cy="1136.39" r="7.6"/>
<circle cx="1406.99" cy="1127.74" r="7.6"/>
<circle cx="1405.91" cy="1143.14" r="7.6"/>
</g>
<path d="M1560.41 1141.25V1212.84M1560.41 1285.51V1360.62" stroke="#000" stroke-width="3.1" fill="none"/>
<rect x="1521.16" y="1212.84" width="78.49" height="72.67" fill="#7AAED4" stroke="#000" stroke-width="3.2"/>
<path d="M1521.16 1258.5H1599.65" stroke="#000" stroke-width="6.6"/>
<g fill="rgba(16,78,139,0.7)">
<circle cx="1561.25" cy="1140.98" r="7.6"/>
<circle cx="1560.44" cy="1151.25" r="7.6"/>
<circle cx="1558.28" cy="1172.86" r="7.6"/>
<circle cx="1559.63" cy="1178.26" r="7.6"/>
<circle cx="1562.33" cy="1183.66" r="7.6"/>
<circle cx="1561.25" cy="1189.61" r="7.6"/>
<circle cx="1562.33" cy="1207.98" r="7.6"/>
<circle cx="1559.9" cy="1212.03" r="7.6"/>
<circle cx="1561.79" cy="1220.14" r="7.6"/>
<circle cx="1559.63" cy="1226.35" r="7.6"/>
<circle cx="1562.33" cy="1230.94" r="7.6"/>
<circle cx="1563.14" cy="1236.34" r="7.6"/>
<circle cx="1560.44" cy="1257.96" r="7.6"/>
<circle cx="1563.14" cy="1259.31" r="7.6"/>
<circle cx="1557.74" cy="1262.01" r="7.6"/>
<circle cx="1563.14" cy="1265.25" r="7.6"/>
<circle cx="1557.74" cy="1267.41" r="7.6"/>
<circle cx="1562.33" cy="1275.52" r="7.6"/>
<circle cx="1556.93" cy="1281.73" r="7.6"/>
<circle cx="1559.9" cy="1286.32" r="7.6"/>
<circle cx="1558.55" cy="1290.38" r="7.6"/>
<circle cx="1556.93" cy="1301.18" r="7.6"/>
<circle cx="1561.25" cy="1301.18" r="7.6"/>
<circle cx="1562.33" cy="1312.53" r="7.6"/>
<circle cx="1559.9" cy="1334.95" r="7.6"/>
<circle cx="1560.44" cy="1343.06" r="7.6"/>
<circle cx="1562.06" cy="1360.62" r="7.6"/>
<circle cx="1558.82" cy="1260.66" r="7.6"/>
<circle cx="1556.39" cy="1282.54" r="7.6"/>
<circle cx="1559.09" cy="1177.45" r="7.6"/>
<circle cx="1560.98" cy="1213.38" r="7.6"/>
<circle cx="1562.87" cy="1218.78" r="7.6"/>
</g>
<path d="M995.25 873.9V1534.9M994.95 1534.6H1654.6" stroke="#000" stroke-width="3.2" fill="none"/>
<path d="M974.05 903.92H995.25" stroke="#000" stroke-width="3.2"/>
<text x="967.25" y="915.02" font-size="30.8" fill="#4D4D4D" text-anchor="end">4</text>
<path d="M974.05 1054.06H995.25" stroke="#000" stroke-width="3.2"/>
<text x="967.25" y="1065.16" font-size="30.8" fill="#4D4D4D" text-anchor="end">2</text>
<path d="M974.05 1204.2H995.25" stroke="#000" stroke-width="3.2"/>
<text x="967.25" y="1215.3" font-size="30.8" fill="#4D4D4D" text-anchor="end">0</text>
<path d="M974.05 1354.34H995.25" stroke="#000" stroke-width="3.2"/>
<text x="967.25" y="1365.44" font-size="30.8" fill="#4D4D4D" text-anchor="end">−2</text>
<path d="M974.05 1504.48H995.25" stroke="#000" stroke-width="3.2"/>
<text x="967.25" y="1515.58" font-size="30.8" fill="#4D4D4D" text-anchor="end">−4</text>
<path d="M1089.44 1534.6V1555.8" stroke="#000" stroke-width="3.2"/>
<text transform="translate(1089.44 1584.7) scale(1 1.05)" font-size="26.7" fill="#4D4D4D" text-anchor="middle">AA</text>
<text transform="translate(1089.44 1613.5) scale(1 1.05)" font-size="26.7" fill="#4D4D4D" text-anchor="middle">MMR−d</text>
<text transform="translate(1089.44 1642.3) scale(1 1.05)" font-size="26.7" fill="#4D4D4D" text-anchor="middle">MSI−H</text>
<path d="M1246.43 1534.6V1555.8" stroke="#000" stroke-width="3.2"/>
<text transform="translate(1246.43 1584.7) scale(1 1.05)" font-size="26.7" fill="#4D4D4D" text-anchor="middle">AA</text>
<text transform="translate(1246.43 1613.5) scale(1 1.05)" font-size="26.7" fill="#4D4D4D" text-anchor="middle">MMR−p</text>
<text transform="translate(1246.43 1642.3) scale(1 1.05)" font-size="26.7" fill="#4D4D4D" text-anchor="middle">MSI−L+MSS</text>
<path d="M1403.42 1534.6V1555.8" stroke="#000" stroke-width="3.2"/>
<text transform="translate(1403.42 1584.7) scale(1 1.05)" font-size="26.7" fill="#4D4D4D" text-anchor="middle">EA</text>
<text transform="translate(1403.42 1613.5) scale(1 1.05)" font-size="26.7" fill="#4D4D4D" text-anchor="middle">MMR−d</text>
<text transform="translate(1403.42 1642.3) scale(1 1.05)" font-size="26.7" fill="#4D4D4D" text-anchor="middle">MSI−H</text>
<path d="M1560.41 1534.6V1555.8" stroke="#000" stroke-width="3.2"/>
<text transform="translate(1560.41 1584.7) scale(1 1.05)" font-size="26.7" fill="#4D4D4D" text-anchor="middle">EA</text>
<text transform="translate(1560.41 1613.5) scale(1 1.05)" font-size="26.7" fill="#4D4D4D" text-anchor="middle">MMR−p</text>
<text transform="translate(1560.41 1642.3) scale(1 1.05)" font-size="26.7" fill="#4D4D4D" text-anchor="middle">MSI−L+MSS</text>
<text transform="translate(909.6 1196.75)  rotate(-90) scale(1 1.08)" font-size="35.4" fill="#000" stroke="#000" stroke-width="0.45" text-anchor="middle">ΔCt (RAB7A − CD45)</text>
<text x="859.2" y="873.6" font-size="32.5" font-weight="bold" fill="#000">D</text>
</g>
<g id="panelE">
<path d="M233.34 2049.07V2175.5M233.34 2280.59V2355.69" stroke="#000" stroke-width="3.1" fill="none"/>
<rect x="194.1" y="2175.5" width="78.49" height="105.09" fill="#E77F81" stroke="#000" stroke-width="3.2"/>
<path d="M194.1 2227.37H272.59" stroke="#000" stroke-width="6.6"/>
<g fill="rgba(139,26,26,0.7)">
<circle cx="236.45" cy="2048.53" r="7.6"/>
<circle cx="233.21" cy="2153.08" r="7.6"/>
<circle cx="236.45" cy="2153.89" r="7.6"/>
<circle cx="231.05" cy="2164.69" r="7.6"/>
<circle cx="231.05" cy="2173.34" r="7.6"/>
<circle cx="232.4" cy="2177.39" r="7.6"/>
<circle cx="233.21" cy="2213.86" r="7.6"/>
<circle cx="235.1" cy="2218.46" r="7.6"/>
<circle cx="230.24" cy="2222.51" r="7.6"/>
<circle cx="231.05" cy="2231.42" r="7.6"/>
<circle cx="233.21" cy="2234.12" r="7.6"/>
<circle cx="234.56" cy="2245.74" r="7.6"/>
<circle cx="235.1" cy="2250.33" r="7.6"/>
<circle cx="234.29" cy="2263.03" r="7.6"/>
<circle cx="230.51" cy="2286.26" r="7.6"/>
<circle cx="234.83" cy="2304.36" r="7.6"/>
<circle cx="236.99" cy="2338.13" r="7.6"/>
<circle cx="233.21" cy="2343" r="7.6"/>
<circle cx="235.37" cy="2355.15" r="7.6"/>
<circle cx="235.37" cy="2356.23" r="7.6"/>
<circle cx="229.7" cy="2223.86" r="7.6"/>
<circle cx="232.13" cy="2174.15" r="7.6"/>
<circle cx="232.67" cy="2215.21" r="7.6"/>
</g>
<path d="M390.33 2179.55V2213.32M390.33 2278.16V2338.94" stroke="#000" stroke-width="3.1" fill="none"/>
<rect x="351.08" y="2213.32" width="78.49" height="64.84" fill="#7AAED4" stroke="#000" stroke-width="3.2"/>
<path d="M351.08 2241.42H429.58" stroke="#000" stroke-width="6.6"/>
<g fill="rgba(16,78,139,0.7)">
<circle cx="388.28" cy="2113.36" r="7.6"/>
<circle cx="389.63" cy="2179.55" r="7.6"/>
<circle cx="387.2" cy="2184.15" r="7.6"/>
<circle cx="388.55" cy="2186.31" r="7.6"/>
<circle cx="391.25" cy="2193.6" r="7.6"/>
<circle cx="388.55" cy="2213.86" r="7.6"/>
<circle cx="390.44" cy="2218.46" r="7.6"/>
<circle cx="392.33" cy="2224.67" r="7.6"/>
<circle cx="390.98" cy="2234.12" r="7.6"/>
<circle cx="389.63" cy="2238.18" r="7.6"/>
<circle cx="386.93" cy="2241.42" r="7.6"/>
<circle cx="391.25" cy="2254.39" r="7.6"/>
<circle cx="393.14" cy="2256.55" r="7.6"/>
<circle cx="390.44" cy="2259.79" r="7.6"/>
<circle cx="387.74" cy="2272.49" r="7.6"/>
<circle cx="389.09" cy="2277.35" r="7.6"/>
<circle cx="392.33" cy="2281.4" r="7.6"/>
<circle cx="393.14" cy="2284.1" r="7.6"/>
<circle cx="387.74" cy="2286.8" r="7.6"/>
<circle cx="391.79" cy="2288.16" r="7.6"/>
<circle cx="389.09" cy="2308.42" r="7.6"/>
<circle cx="392.33" cy="2316.52" r="7.6"/>
<circle cx="390.44" cy="2338.94" r="7.6"/>
<circle cx="389.63" cy="2278.7" r="7.6"/>
<circle cx="393.68" cy="2285.45" r="7.6"/>
<circle cx="388.01" cy="2185.5" r="7.6"/>
<circle cx="389.9" cy="2233.31" r="7.6"/>
<circle cx="389.9" cy="2217.64" r="7.6"/>
<circle cx="386.39" cy="2240.07" r="7.6"/>
<circle cx="392.33" cy="2253.58" r="7.6"/>
</g>
<path d="M547.32 2078.24V2152.54M547.32 2281.4V2351.64" stroke="#000" stroke-width="3.1" fill="none"/>
<rect x="508.07" y="2152.54" width="78.49" height="128.86" fill="#E77F81" stroke="#000" stroke-width="3.2"/>
<path d="M508.07 2234.66H586.57" stroke="#000" stroke-width="6.6"/>
<g fill="rgba(139,26,26,0.7)">
<circle cx="544.51" cy="2077.43" r="7.6"/>
<circle cx="548.02" cy="2098.24" r="7.6"/>
<circle cx="543.97" cy="2112.01" r="7.6"/>
<circle cx="550.45" cy="2133.63" r="7.6"/>
<circle cx="547.75" cy="2134.98" r="7.6"/>
<circle cx="549.64" cy="2138.76" r="7.6"/>
<circle cx="549.91" cy="2152.54" r="7.6"/>
<circle cx="546.4" cy="2166.59" r="7.6"/>
<circle cx="551.26" cy="2220.62" r="7.6"/>
<circle cx="545.05" cy="2225.21" r="7.6"/>
<circle cx="547.21" cy="2226.02" r="7.6"/>
<circle cx="547.75" cy="2236.83" r="7.6"/>
<circle cx="545.59" cy="2248.44" r="7.6"/>
<circle cx="548.29" cy="2248.98" r="7.6"/>
<circle cx="546.67" cy="2261.68" r="7.6"/>
<circle cx="547.75" cy="2275.46" r="7.6"/>
<circle cx="547.21" cy="2280.05" r="7.6"/>
<circle cx="549.91" cy="2290.86" r="7.6"/>
<circle cx="543.16" cy="2315.17" r="7.6"/>
<circle cx="545.05" cy="2317.87" r="7.6"/>
<circle cx="546.4" cy="2320.57" r="7.6"/>
<circle cx="549.37" cy="2327.33" r="7.6"/>
<circle cx="548.02" cy="2351.64" r="7.6"/>
<circle cx="546.94" cy="2321.38" r="7.6"/>
</g>
<path d="M704.31 2176.85V2230.61M704.31 2279.24V2354.34" stroke="#000" stroke-width="3.1" fill="none"/>
<rect x="665.06" y="2230.61" width="78.49" height="48.63" fill="#7AAED4" stroke="#000" stroke-width="3.2"/>
<path d="M665.06 2257.9H743.55" stroke="#000" stroke-width="6.6"/>
<g fill="rgba(16,78,139,0.7)">
<circle cx="702.28" cy="2176.58" r="7.6"/>
<circle cx="707.68" cy="2191.44" r="7.6"/>
<circle cx="704.44" cy="2199.54" r="7.6"/>
<circle cx="706.6" cy="2200.35" r="7.6"/>
<circle cx="707.68" cy="2219.27" r="7.6"/>
<circle cx="704.44" cy="2222.51" r="7.6"/>
<circle cx="706.33" cy="2224.67" r="7.6"/>
<circle cx="703.63" cy="2238.72" r="7.6"/>
<circle cx="706.33" cy="2240.88" r="7.6"/>
<circle cx="701.2" cy="2249.52" r="7.6"/>
<circle cx="707.14" cy="2248.44" r="7.6"/>
<circle cx="703.09" cy="2257.09" r="7.6"/>
<circle cx="705.25" cy="2258.44" r="7.6"/>
<circle cx="701.74" cy="2266.54" r="7.6"/>
<circle cx="704.98" cy="2269.24" r="7.6"/>
<circle cx="701.2" cy="2276.54" r="7.6"/>
<circle cx="705.79" cy="2278.7" r="7.6"/>
<circle cx="707.14" cy="2284.1" r="7.6"/>
<circle cx="705.79" cy="2324.09" r="7.6"/>
<circle cx="703.09" cy="2334.08" r="7.6"/>
<circle cx="707.14" cy="2340.3" r="7.6"/>
<circle cx="701.74" cy="2353.53" r="7.6"/>
<circle cx="704.44" cy="2354.34" r="7.6"/>
<circle cx="702.01" cy="2256.28" r="7.6"/>
<circle cx="708.22" cy="2249.25" r="7.6"/>
<circle cx="702.28" cy="2265.73" r="7.6"/>
<circle cx="700.12" cy="2277.89" r="7.6"/>
<circle cx="708.76" cy="2192.79" r="7.6"/>
<circle cx="705.52" cy="2200.89" r="7.6"/>
<circle cx="706.6" cy="2220.62" r="7.6"/>
<circle cx="707.41" cy="2239.53" r="7.6"/>
<circle cx="706.6" cy="2282.75" r="7.6"/>
</g>
<path d="M139.15 1729.9V2390.9M138.85 2390.6H798.5" stroke="#000" stroke-width="3.2" fill="none"/>
<path d="M117.95 1820H139.15" stroke="#000" stroke-width="3.2"/>
<text x="111.15" y="1831.1" font-size="30.8" fill="#4D4D4D" text-anchor="end">4</text>
<path d="M117.95 1940.1H139.15" stroke="#000" stroke-width="3.2"/>
<text x="111.15" y="1951.2" font-size="30.8" fill="#4D4D4D" text-anchor="end">2</text>
<path d="M117.95 2060.2H139.15" stroke="#000" stroke-width="3.2"/>
<text x="111.15" y="2071.3" font-size="30.8" fill="#4D4D4D" text-anchor="end">0</text>
<path d="M117.95 2180.3H139.15" stroke="#000" stroke-width="3.2"/>
<text x="111.15" y="2191.4" font-size="30.8" fill="#4D4D4D" text-anchor="end">−2</text>
<path d="M117.95 2300.4H139.15" stroke="#000" stroke-width="3.2"/>
<text x="111.15" y="2311.5" font-size="30.8" fill="#4D4D4D" text-anchor="end">−4</text>
<path d="M233.34 2390.6V2411.8" stroke="#000" stroke-width="3.2"/>
<text transform="translate(233.34 2440.7) scale(1 1.05)" font-size="26.7" fill="#4D4D4D" text-anchor="middle">AA</text>
<text transform="translate(233.34 2469.5) scale(1 1.05)" font-size="26.7" fill="#4D4D4D" text-anchor="middle">MMR−d</text>
<text transform="translate(233.34 2498.3) scale(1 1.05)" font-size="26.7" fill="#4D4D4D" text-anchor="middle">MSI−H</text>
<path d="M390.33 2390.6V2411.8" stroke="#000" stroke-width="3.2"/>
<text transform="translate(390.33 2440.7) scale(1 1.05)" font-size="26.7" fill="#4D4D4D" text-anchor="middle">AA</text>
<text transform="translate(390.33 2469.5) scale(1 1.05)" font-size="26.7" fill="#4D4D4D" text-anchor="middle">MMR−p</text>
<text transform="translate(390.33 2498.3) scale(1 1.05)" font-size="26.7" fill="#4D4D4D" text-anchor="middle">MSI−L+MSS</text>
<path d="M547.32 2390.6V2411.8" stroke="#000" stroke-width="3.2"/>
<text transform="translate(547.32 2440.7) scale(1 1.05)" font-size="26.7" fill="#4D4D4D" text-anchor="middle">EA</text>
<text transform="translate(547.32 2469.5) scale(1 1.05)" font-size="26.7" fill="#4D4D4D" text-anchor="middle">MMR−d</text>
<text transform="translate(547.32 2498.3) scale(1 1.05)" font-size="26.7" fill="#4D4D4D" text-anchor="middle">MSI−H</text>
<path d="M704.31 2390.6V2411.8" stroke="#000" stroke-width="3.2"/>
<text transform="translate(704.31 2440.7) scale(1 1.05)" font-size="26.7" fill="#4D4D4D" text-anchor="middle">EA</text>
<text transform="translate(704.31 2469.5) scale(1 1.05)" font-size="26.7" fill="#4D4D4D" text-anchor="middle">MMR−p</text>
<text transform="translate(704.31 2498.3) scale(1 1.05)" font-size="26.7" fill="#4D4D4D" text-anchor="middle">MSI−L+MSS</text>
<text transform="translate(53.5 2042.95)  rotate(-90) scale(1 1.08)" font-size="35.4" fill="#000" stroke="#000" stroke-width="0.45" text-anchor="middle">ΔCt (C1ORF43 − CD3D)</text>
<text x="0" y="1727" font-size="32.5" font-weight="bold" fill="#000">E</text>
</g>
<g id="panelF">
<path d="M1089.44 2173.34V2246.82M1089.44 2308.42V2354.34" stroke="#000" stroke-width="3.1" fill="none"/>
<rect x="1050.2" y="2246.82" width="78.49" height="61.6" fill="#E77F81" stroke="#000" stroke-width="3.2"/>
<path d="M1050.2 2284.1H1128.69" stroke="#000" stroke-width="6.6"/>
<g fill="rgba(139,26,26,0.7)">
<circle cx="1090.56" cy="2172.53" r="7.6"/>
<circle cx="1088.4" cy="2205.76" r="7.6"/>
<circle cx="1087.32" cy="2217.91" r="7.6"/>
<circle cx="1086.51" cy="2224.67" r="7.6"/>
<circle cx="1092.99" cy="2233.58" r="7.6"/>
<circle cx="1086.51" cy="2251.14" r="7.6"/>
<circle cx="1088.4" cy="2264.38" r="7.6"/>
<circle cx="1088.94" cy="2278.16" r="7.6"/>
<circle cx="1092.99" cy="2278.7" r="7.6"/>
<circle cx="1086.24" cy="2290.05" r="7.6"/>
<circle cx="1088.4" cy="2293.56" r="7.6"/>
<circle cx="1092.99" cy="2298.96" r="7.6"/>
<circle cx="1091.1" cy="2304.36" r="7.6"/>
<circle cx="1087.86" cy="2309.77" r="7.6"/>
<circle cx="1087.86" cy="2312.47" r="7.6"/>
<circle cx="1087.05" cy="2334.89" r="7.6"/>
<circle cx="1092.99" cy="2333.27" r="7.6"/>
<circle cx="1085.97" cy="2355.15" r="7.6"/>
<circle cx="1090.56" cy="2305.72" r="7.6"/>
<circle cx="1087.86" cy="2292.21" r="7.6"/>
<circle cx="1088.4" cy="2311.12" r="7.6"/>
</g>
<path d="M1246.43 2201.71V2238.99M1246.43 2309.77V2360.29" stroke="#000" stroke-width="3.1" fill="none"/>
<rect x="1207.18" y="2238.99" width="78.49" height="70.78" fill="#7AAED4" stroke="#000" stroke-width="3.2"/>
<path d="M1207.18 2284.64H1285.68" stroke="#000" stroke-width="6.6"/>
<g fill="rgba(16,78,139,0.7)">
<circle cx="1244.01" cy="2125.25" r="7.6"/>
<circle cx="1243.2" cy="2200.89" r="7.6"/>
<circle cx="1243.74" cy="2211.7" r="7.6"/>
<circle cx="1248.06" cy="2213.32" r="7.6"/>
<circle cx="1243.74" cy="2226.02" r="7.6"/>
<circle cx="1247.25" cy="2227.37" r="7.6"/>
<circle cx="1249.95" cy="2239.53" r="7.6"/>
<circle cx="1246.98" cy="2246.28" r="7.6"/>
<circle cx="1245.09" cy="2254.39" r="7.6"/>
<circle cx="1245.9" cy="2265.19" r="7.6"/>
<circle cx="1246.98" cy="2270.05" r="7.6"/>
<circle cx="1245.63" cy="2284.1" r="7.6"/>
<circle cx="1244.55" cy="2290.86" r="7.6"/>
<circle cx="1248.33" cy="2297.61" r="7.6"/>
<circle cx="1245.09" cy="2305.72" r="7.6"/>
<circle cx="1246.98" cy="2311.12" r="7.6"/>
<circle cx="1243.2" cy="2318.41" r="7.6"/>
<circle cx="1247.25" cy="2320.57" r="7.6"/>
<circle cx="1247.79" cy="2340.84" r="7.6"/>
<circle cx="1245.9" cy="2356.23" r="7.6"/>
<circle cx="1248.6" cy="2360.29" r="7.6"/>
<circle cx="1245.9" cy="2309.77" r="7.6"/>
<circle cx="1246.44" cy="2244.93" r="7.6"/>
<circle cx="1245.09" cy="2289.51" r="7.6"/>
<circle cx="1247.25" cy="2296.8" r="7.6"/>
<circle cx="1244.28" cy="2317.6" r="7.6"/>
</g>
<path d="M1403.42 2117.96V2178.74M1403.42 2283.56V2354.34" stroke="#000" stroke-width="3.1" fill="none"/>
<rect x="1364.17" y="2178.74" width="78.49" height="104.82" fill="#E77F81" stroke="#000" stroke-width="3.2"/>
<path d="M1364.17 2252.22H1442.67" stroke="#000" stroke-width="6.6"/>
<g fill="rgba(139,26,26,0.7)">
<circle cx="1402.4" cy="2117.15" r="7.6"/>
<circle cx="1403.21" cy="2132.82" r="7.6"/>
<circle cx="1403.75" cy="2151.73" r="7.6"/>
<circle cx="1406.99" cy="2159.29" r="7.6"/>
<circle cx="1403.75" cy="2173.34" r="7.6"/>
<circle cx="1404.56" cy="2174.15" r="7.6"/>
<circle cx="1403.21" cy="2189.01" r="7.6"/>
<circle cx="1402.67" cy="2213.05" r="7.6"/>
<circle cx="1404.29" cy="2229.53" r="7.6"/>
<circle cx="1400.51" cy="2240.34" r="7.6"/>
<circle cx="1401.86" cy="2243.58" r="7.6"/>
<circle cx="1400.51" cy="2261.95" r="7.6"/>
<circle cx="1406.45" cy="2275.46" r="7.6"/>
<circle cx="1403.21" cy="2278.16" r="7.6"/>
<circle cx="1405.37" cy="2279.24" r="7.6"/>
<circle cx="1402.4" cy="2285.45" r="7.6"/>
<circle cx="1399.7" cy="2297.61" r="7.6"/>
<circle cx="1401.59" cy="2303.01" r="7.6"/>
<circle cx="1401.86" cy="2325.98" r="7.6"/>
<circle cx="1406.45" cy="2329.49" r="7.6"/>
<circle cx="1402.4" cy="2354.34" r="7.6"/>
<circle cx="1403.75" cy="2278.97" r="7.6"/>
<circle cx="1402.94" cy="2286.8" r="7.6"/>
</g>
<path d="M1560.41 2265.19V2288.7M1560.41 2324.09V2352.99" stroke="#000" stroke-width="3.1" fill="none"/>
<rect x="1521.16" y="2288.7" width="78.49" height="35.39" fill="#7AAED4" stroke="#000" stroke-width="3.2"/>
<path d="M1521.16 2310.58H1599.65" stroke="#000" stroke-width="6.6"/>
<g fill="rgba(16,78,139,0.7)">
<circle cx="1560.71" cy="2221.97" r="7.6"/>
<circle cx="1559.36" cy="2264.65" r="7.6"/>
<circle cx="1559.9" cy="2267.89" r="7.6"/>
<circle cx="1558.82" cy="2277.35" r="7.6"/>
<circle cx="1560.44" cy="2282.75" r="7.6"/>
<circle cx="1563.95" cy="2287.34" r="7.6"/>
<circle cx="1560.44" cy="2293.56" r="7.6"/>
<circle cx="1563.14" cy="2294.91" r="7.6"/>
<circle cx="1557.2" cy="2301.12" r="7.6"/>
<circle cx="1560.98" cy="2303.01" r="7.6"/>
<circle cx="1562.6" cy="2309.77" r="7.6"/>
<circle cx="1559.9" cy="2312.47" r="7.6"/>
<circle cx="1562.33" cy="2317.06" r="7.6"/>
<circle cx="1559.09" cy="2320.57" r="7.6"/>
<circle cx="1560.98" cy="2324.63" r="7.6"/>
<circle cx="1557.74" cy="2328.68" r="7.6"/>
<circle cx="1560.98" cy="2332.19" r="7.6"/>
<circle cx="1559.09" cy="2340.3" r="7.6"/>
<circle cx="1556.93" cy="2349.48" r="7.6"/>
<circle cx="1560.44" cy="2352.99" r="7.6"/>
<circle cx="1561.25" cy="2354.34" r="7.6"/>
<circle cx="1559.36" cy="2297.61" r="7.6"/>
<circle cx="1561.52" cy="2306.26" r="7.6"/>
<circle cx="1558.55" cy="2315.17" r="7.6"/>
<circle cx="1560.44" cy="2319.22" r="7.6"/>
<circle cx="1559.9" cy="2301.66" r="7.6"/>
<circle cx="1560.98" cy="2313.82" r="7.6"/>
<circle cx="1560.17" cy="2321.92" r="7.6"/>
<circle cx="1560.98" cy="2292.21" r="7.6"/>
<circle cx="1563.41" cy="2285.99" r="7.6"/>
<circle cx="1558.28" cy="2329.49" r="7.6"/>
<circle cx="1558.01" cy="2348.67" r="7.6"/>
</g>
<path d="M995.25 1729.9V2390.9M994.95 2390.6H1654.6" stroke="#000" stroke-width="3.2" fill="none"/>
<path d="M974.05 1820H995.25" stroke="#000" stroke-width="3.2"/>
<text x="967.25" y="1831.1" font-size="30.8" fill="#4D4D4D" text-anchor="end">4</text>
<path d="M974.05 1940.1H995.25" stroke="#000" stroke-width="3.2"/>
<text x="967.25" y="1951.2" font-size="30.8" fill="#4D4D4D" text-anchor="end">2</text>
<path d="M974.05 2060.2H995.25" stroke="#000" stroke-width="3.2"/>
<text x="967.25" y="2071.3" font-size="30.8" fill="#4D4D4D" text-anchor="end">0</text>
<path d="M974.05 2180.3H995.25" stroke="#000" stroke-width="3.2"/>
<text x="967.25" y="2191.4" font-size="30.8" fill="#4D4D4D" text-anchor="end">−2</text>
<path d="M974.05 2300.4H995.25" stroke="#000" stroke-width="3.2"/>
<text x="967.25" y="2311.5" font-size="30.8" fill="#4D4D4D" text-anchor="end">−4</text>
<path d="M1089.44 2390.6V2411.8" stroke="#000" stroke-width="3.2"/>
<text transform="translate(1089.44 2440.7) scale(1 1.05)" font-size="26.7" fill="#4D4D4D" text-anchor="middle">AA</text>
<text transform="translate(1089.44 2469.5) scale(1 1.05)" font-size="26.7" fill="#4D4D4D" text-anchor="middle">MMR−d</text>
<text transform="translate(1089.44 2498.3) scale(1 1.05)" font-size="26.7" fill="#4D4D4D" text-anchor="middle">MSI−H</text>
<path d="M1246.43 2390.6V2411.8" stroke="#000" stroke-width="3.2"/>
<text transform="translate(1246.43 2440.7) scale(1 1.05)" font-size="26.7" fill="#4D4D4D" text-anchor="middle">AA</text>
<text transform="translate(1246.43 2469.5) scale(1 1.05)" font-size="26.7" fill="#4D4D4D" text-anchor="middle">MMR−p</text>
<text transform="translate(1246.43 2498.3) scale(1 1.05)" font-size="26.7" fill="#4D4D4D" text-anchor="middle">MSI−L+MSS</text>
<path d="M1403.42 2390.6V2411.8" stroke="#000" stroke-width="3.2"/>
<text transform="translate(1403.42 2440.7) scale(1 1.05)" font-size="26.7" fill="#4D4D4D" text-anchor="middle">EA</text>
<text transform="translate(1403.42 2469.5) scale(1 1.05)" font-size="26.7" fill="#4D4D4D" text-anchor="middle">MMR−d</text>
<text transform="translate(1403.42 2498.3) scale(1 1.05)" font-size="26.7" fill="#4D4D4D" text-anchor="middle">MSI−H</text>
<path d="M1560.41 2390.6V2411.8" stroke="#000" stroke-width="3.2"/>
<text transform="translate(1560.41 2440.7) scale(1 1.05)" font-size="26.7" fill="#4D4D4D" text-anchor="middle">EA</text>
<text transform="translate(1560.41 2469.5) scale(1 1.05)" font-size="26.7" fill="#4D4D4D" text-anchor="middle">MMR−p</text>
<text transform="translate(1560.41 2498.3) scale(1 1.05)" font-size="26.7" fill="#4D4D4D" text-anchor="middle">MSI−L+MSS</text>
<text transform="translate(909.6 2052.75)  rotate(-90) scale(1 1.08)" font-size="35.4" fill="#000" stroke="#000" stroke-width="0.45" text-anchor="middle">ΔCt (RAB7A − CD3D)</text>
<text x="859.2" y="1727" font-size="32.5" font-weight="bold" fill="#000">F</text>
</g>
</svg>
</body></html>
